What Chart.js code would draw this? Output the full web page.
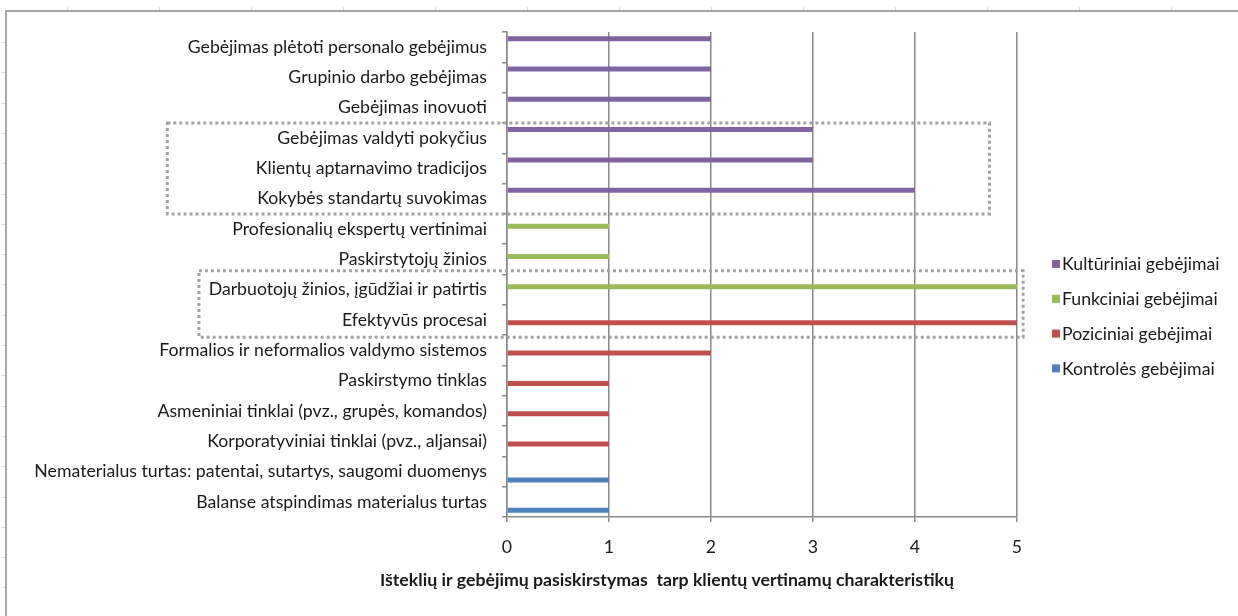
<!DOCTYPE html>
<html lang="lt">
<head>
<meta charset="utf-8">
<title>Išteklių ir gebėjimų pasiskirstymas</title>
<script src="https://cdn.jsdelivr.net/npm/chart.js@4.4.1/dist/chart.umd.min.js"></script>
<style>
  html, body { margin: 0; padding: 0; background: #ffffff; }
  #wrap { position: relative; width: 1238px; height: 616px; }
  canvas { display: block; }
</style>
</head>
<body>
<div id="wrap"><canvas id="chart" width="1238" height="616"></canvas></div>
<script>
// Characteristics valued by clients, listed top to bottom
const categories = [
  'Gebėjimas plėtoti personalo gebėjimus',
  'Grupinio darbo gebėjimas',
  'Gebėjimas inovuoti',
  'Gebėjimas valdyti pokyčius',
  'Klientų aptarnavimo tradicijos',
  'Kokybės standartų suvokimas',
  'Profesionalių ekspertų vertinimai',
  'Paskirstytojų žinios',
  'Darbuotojų žinios, įgūdžiai ir patirtis',
  'Efektyvūs procesai',
  'Formalios ir neformalios valdymo sistemos',
  'Paskirstymo tinklas',
  'Asmeniniai tinklai (pvz., grupės, komandos)',
  'Korporatyviniai tinklai (pvz., aljansai)',
  'Nematerialus turtas: patentai, sutartys, saugomi duomenys',
  'Balanse atspindimas materialus turtas'
];

// One value per characteristic; null where the group does not apply
const kulturiniai = [2, 2, 2, 3, 3, 4, null, null, null, null, null, null, null, null, null, null];
const funkciniai  = [null, null, null, null, null, null, 1, 1, 5, null, null, null, null, null, null, null];
const poziciniai  = [null, null, null, null, null, null, null, null, null, 5, 2, 1, 1, 1, null, null];
const kontroles   = [null, null, null, null, null, null, null, null, null, null, null, null, null, null, 1, 1];

const seriesNames = ['Kultūriniai gebėjimai', 'Funkciniai gebėjimai', 'Poziciniai gebėjimai', 'Kontrolės gebėjimai'];
const xTicks = [0, 1, 2, 3, 4, 5];
const axisTitle = 'Išteklių ir gebėjimų pasiskirstymas  tarp klientų vertinamų charakteristikų';

const colors = ['#8064A2', '#9BBB59', '#C0504D', '#4F81BD'];
const FONT = 'Lato, "Open Sans", sans-serif';
const FONT_SIZE = 17.7;
const TEXT = '#1a1a1a';
const GRID = '#8a8a8a';

// Dotted highlight frames: category band range and value range on the x scale
const highlights = [
  { fromIndex: 3, toIndex: 6, xFrom: -3.33, xTo: 4.73 },
  { fromIndex: 7.88, toIndex: 10.07, xFrom: -3.02, xTo: 5.06 }
];

// Sheet frame, faint cell marks, dotted frames, legend and axis title
const decorPlugin = {
  id: 'decor',
  beforeDraw(chart) {
    const ctx = chart.ctx;
    ctx.save();
    // faint worksheet cell marks outside the chart frame
    ctx.strokeStyle = '#d6dcea';
    ctx.lineWidth = 1;
    for (let x = 67; x < chart.width; x += 92) {
      ctx.beginPath(); ctx.moveTo(x + 0.5, 7); ctx.lineTo(x + 0.5, 11); ctx.stroke();
    }
    for (let y = 42; y < chart.height; y += 30.3) {
      ctx.beginPath(); ctx.moveTo(1, Math.round(y) + 0.5); ctx.lineTo(6, Math.round(y) + 0.5); ctx.stroke();
    }
    // chart frame
    ctx.strokeStyle = '#8c8c8c';
    ctx.lineWidth = 1.5;
    ctx.beginPath();
    ctx.moveTo(6, chart.height + 2);
    ctx.lineTo(6, 11);
    ctx.lineTo(chart.width + 2, 11);
    ctx.stroke();
    ctx.restore();
  },
  afterDraw(chart) {
    const ctx = chart.ctx;
    const xs = chart.scales.x, ys = chart.scales.y;
    const band = (ys.getPixelForValue(1) - ys.getPixelForValue(0));
    const top0 = ys.getPixelForValue(0) - band / 2;
    ctx.save();
    // dotted frames
    ctx.strokeStyle = '#a3a3a3';
    ctx.lineWidth = 3;
    ctx.setLineDash([3, 3]);
    highlights.forEach(h => {
      const x1 = xs.getPixelForValue(h.xFrom), x2 = xs.getPixelForValue(h.xTo);
      const y1 = top0 + band * h.fromIndex, y2 = top0 + band * h.toIndex;
      ctx.strokeRect(x1, y1, x2 - x1, y2 - y1);
    });
    ctx.setLineDash([]);
    // legend
    const lx = chart.chartArea.right + 35;
    const ly0 = 264, lstep = 34.8;
    ctx.font = FONT_SIZE + 'px ' + FONT;
    ctx.textBaseline = 'middle';
    ctx.textAlign = 'left';
    seriesNames.forEach((name, i) => {
      const y = ly0 + i * lstep;
      ctx.fillStyle = colors[i];
      ctx.fillRect(lx, y - 4, 8, 8);
      ctx.fillStyle = TEXT;
      ctx.fillText(name, lx + 10, y + 0.5);
    });
    // axis title under the value axis
    ctx.font = 'bold ' + FONT_SIZE + 'px ' + FONT;
    ctx.textAlign = 'center';
    ctx.fillText(axisTitle, 667, 580);
    ctx.restore();
  }
};

const datasets = [kulturiniai, funkciniai, poziciniai, kontroles].map((vals, i) => ({
  label: seriesNames[i],
  data: vals,
  backgroundColor: colors[i],
  borderWidth: 0,
  categoryPercentage: 0.75,
  barPercentage: 0.88
}));

new Chart(document.getElementById('chart'), {
  type: 'bar',
  data: { labels: categories, datasets },
  options: {
    indexAxis: 'y',
    responsive: false,
    animation: false,
    events: [],
    layout: { padding: { left: 0, right: 221, top: 32, bottom: 54 } },
    plugins: { legend: { display: false }, tooltip: { enabled: false }, title: { display: false } },
    scales: {
      x: {
        type: 'linear',
        min: 0, max: 5,
        afterBuildTicks(scale) { scale.ticks = xTicks.map(v => ({ value: v })); },
        afterFit(scale) { scale.height = 45; },
        ticks: { color: TEXT, font: { family: FONT, size: FONT_SIZE }, padding: 15 },
        grid: { color: GRID, lineWidth: 1.5, tickLength: 5, drawTicks: true },
        border: { color: GRID, width: 1.5 }
      },
      y: {
        type: 'category',
        afterFit(scale) { scale.width = 507; },
        ticks: { color: TEXT, font: { family: FONT, size: FONT_SIZE }, padding: 15, autoSkip: false },
        grid: { drawOnChartArea: false, drawTicks: true, tickLength: 5, color: GRID, lineWidth: 1.5 },
        border: { color: GRID, width: 1.5 }
      }
    }
  },
  plugins: [decorPlugin]
});
</script>
</body>
</html>
